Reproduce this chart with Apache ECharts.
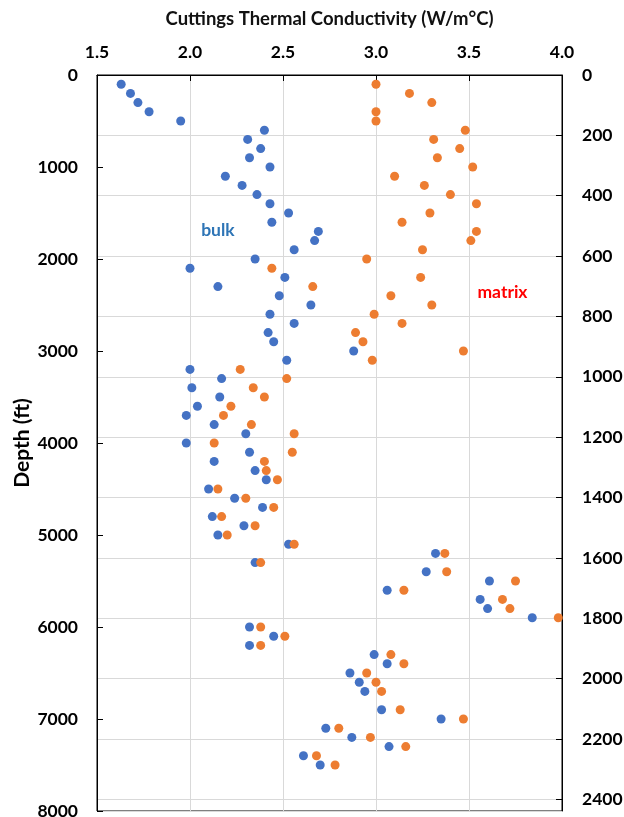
<!DOCTYPE html>
<html>
<head>
<meta charset="utf-8">
<script src="https://cdn.jsdelivr.net/npm/echarts@6/dist/echarts.min.js"></script>
<style>
  html, body { margin: 0; padding: 0; background: #fff; }
  #chart { width: 624px; height: 817px; }
</style>
</head>
<body>
<div id="chart"></div>
<script>
// Sample depths (ft) of the cuttings
var depthFt = [
  100, 200, 300, 400, 500, 600, 700, 800, 900, 1000,
  1100, 1200, 1300, 1400, 1500, 1600, 1700, 1800, 1900, 2000,
  2100, 2200, 2300, 2400, 2500, 2600, 2700, 2800, 2900, 3000,
  3100, 3200, 3300, 3400, 3500, 3600, 3700, 3800, 3900, 4000,
  4100, 4200, 4300, 4400, 4500, 4600, 4700, 4800, 4900, 5000,
  5100, 5200, 5300, 5400, 5500, 5600, 5700, 5800, 5900, 6000,
  6100, 6200, 6300, 6400, 6500, 6600, 6700, 6900, 7000,
  7100, 7200, 7300, 7400, 7500
];

// Bulk thermal conductivity (W/m°C)
var bulkK = [
  1.63, 1.68, 1.72, 1.78, 1.95, 2.40, 2.31, 2.38, 2.32, 2.43,
  2.19, 2.28, 2.36, 2.43, 2.53, 2.44, 2.69, 2.67, 2.56, 2.35,
  2.00, 2.51, 2.15, 2.48, 2.65, 2.43, 2.56, 2.42, 2.45, 2.88,
  2.52, 2.00, 2.17, 2.01, 2.16, 2.04, 1.98, 2.13, 2.30, 1.98,
  2.32, 2.13, 2.35, 2.41, 2.10, 2.24, 2.39, 2.12, 2.29, 2.15,
  2.53, 3.32, 2.35, 3.27, 3.61, 3.06, 3.56, 3.60, 3.84, 2.32,
  2.45, 2.32, 2.99, 3.06, 2.86, 2.91, 2.94, 3.03, 3.35,
  2.73, 2.87, 3.07, 2.61, 2.70
];

// Matrix thermal conductivity (W/m°C)
var matrixK = [
  3.00, 3.18, 3.30, 3.00, 3.00, 3.48, 3.31, 3.45, 3.33, 3.52,
  3.10, 3.26, 3.40, 3.54, 3.29, 3.14, 3.54, 3.51, 3.25, 2.95,
  2.44, 3.24, 2.66, 3.08, 3.30, 2.99, 3.14, 2.89, 2.93, 3.47,
  2.98, 2.27, 2.52, 2.34, 2.40, 2.22, 2.18, 2.33, 2.56, 2.13,
  2.55, 2.40, 2.41, 2.47, 2.15, 2.30, 2.45, 2.17, 2.35, 2.20,
  2.56, 3.37, 2.38, 3.38, 3.75, 3.15, 3.68, 3.72, 3.98, 2.38,
  2.51, 2.38, 3.08, 3.15, 2.95, 3.00, 3.03, 3.13, 3.47,
  2.80, 2.97, 3.16, 2.68, 2.78
];

// Series names shown as in-plot labels, with their anchor in data units
var seriesNames = ['bulk', 'matrix'];
var labelAnchors = [[2.15, 1690], [3.68, 2360]];

var FT_TO_M = 0.3048;
var depthMaxFt = 8000;

function pairs(xs, ys) {
  return xs.map(function (x, i) { return [x, ys[i]]; });
}

var font = 'Lato, "Noto Sans", sans-serif';
var axisText = { color: '#000', fontFamily: font, fontWeight: 'bold', fontSize: 17.5 };
var plainNumber = function (v) { return String(v); };

var chart = echarts.init(document.getElementById('chart'), null, { renderer: 'canvas' });

function seriesLabel(text, color) {
  return {
    show: true, formatter: text, color: color,
    fontFamily: font, fontWeight: 'bold', fontSize: 17.5,
    position: 'inside'
  };
}

chart.setOption({
  animation: false,
  backgroundColor: '#fff',
  grid: {
    left: 97, right: 62, top: 75, bottom: 6,
    containLabel: false, outerBoundsMode: 'none',
    show: true, borderColor: '#000', borderWidth: 1
  },
  xAxis: {
    type: 'value', position: 'top',
    min: 1.5, max: 4.0, interval: 0.5,
    name: 'Cuttings Thermal Conductivity (W/m°C)',
    nameLocation: 'middle', nameGap: 46, nameMoveOverlap: false,
    nameTextStyle: { color: '#111', fontFamily: font, fontWeight: 'bold', fontSize: 18.5 },
    axisLine: { show: true, lineStyle: { color: '#000', width: 1 } },
    axisTick: { show: true, inside: true, length: 6, lineStyle: { color: '#000' } },
    axisLabel: Object.assign({ margin: 14, formatter: function (v) { return v.toFixed(1); } }, axisText),
    splitLine: { show: true, lineStyle: { color: '#d9d9d9', width: 1 } }
  },
  yAxis: [
    {
      type: 'value', inverse: true, position: 'left',
      min: 0, max: depthMaxFt, interval: 1000,
      name: 'Depth (ft)', nameLocation: 'middle', nameGap: 64, nameRotate: 90,
      nameMoveOverlap: false,
      nameTextStyle: { color: '#000', fontFamily: font, fontWeight: 'bold', fontSize: 21 },
      axisLine: { show: true, lineStyle: { color: '#000', width: 1 } },
      axisTick: { show: true, inside: true, length: 6, lineStyle: { color: '#000' } },
      axisLabel: Object.assign({ margin: 19, formatter: plainNumber }, axisText),
      splitLine: { show: false }
    },
    {
      type: 'value', inverse: true, position: 'right',
      min: 0, max: depthMaxFt * FT_TO_M, interval: 200,
      alignTicks: false,
      axisLine: { show: true, lineStyle: { color: '#000', width: 1 } },
      axisTick: { show: true, inside: true, length: 6, lineStyle: { color: '#000' } },
      axisLabel: Object.assign({ margin: 20, showMaxLabel: false, formatter: plainNumber }, axisText),
      splitLine: { show: true, lineStyle: { color: '#d9d9d9', width: 1 } }
    }
  ],
  series: [
    {
      name: seriesNames[0], type: 'scatter', yAxisIndex: 0,
      symbol: 'circle', symbolSize: 9,
      itemStyle: { color: '#4472C4', opacity: 1 },
      data: pairs(bulkK, depthFt),
      markPoint: {
        symbol: 'circle', symbolSize: 0, silent: true,
        label: seriesLabel(seriesNames[0], '#2E75B6'),
        data: [{ coord: labelAnchors[0] }]
      }
    },
    {
      name: seriesNames[1], type: 'scatter', yAxisIndex: 0,
      symbol: 'circle', symbolSize: 9,
      itemStyle: { color: '#ED7D31', opacity: 1 },
      data: pairs(matrixK, depthFt),
      markPoint: {
        symbol: 'circle', symbolSize: 0, silent: true,
        label: seriesLabel(seriesNames[1], '#FF0000'),
        data: [{ coord: labelAnchors[1] }]
      }
    }
  ]
});
</script>
</body>
</html>
